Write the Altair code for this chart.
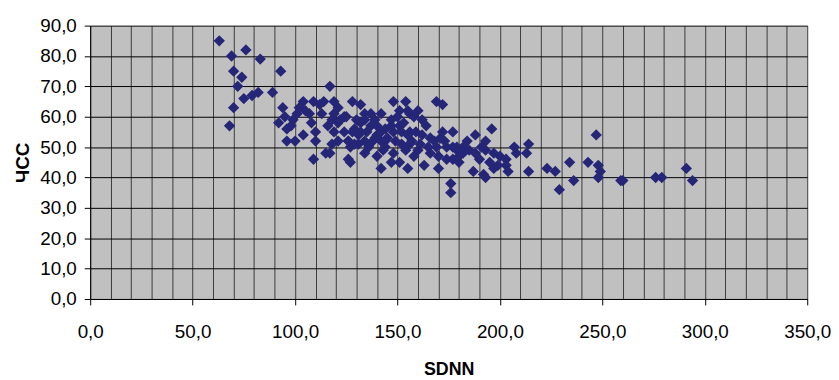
import altair as alt
import pandas as pd

sdnn = [
    63, 69, 76, 83, 70, 74, 72, 93, 75, 79, 82, 89, 70, 68, 117,
    94, 92, 98, 96, 100, 104, 110, 110, 109, 115, 118, 104, 109, 114, 119,
    101, 107, 113, 119, 95, 116, 121, 124, 96, 99, 105, 108, 102, 112,
    124, 129, 126, 131, 135, 137, 134, 139, 127, 131, 139, 128, 132, 148, 154,
    169, 172, 121, 134, 142, 147, 156, 158, 162, 118, 122, 125, 130, 132,
    119, 128, 132, 140, 144, 148, 151, 155, 159, 162, 121, 126, 129, 134,
    138, 142, 144, 149, 152, 157, 168, 172, 177, 117, 126, 127, 134, 140,
    143, 142, 147, 151, 155, 163, 166, 170, 170, 174, 177, 180, 176, 176,
    169, 174, 179, 151, 155, 142, 147, 152, 156, 144, 156, 161, 173, 177,
    180, 187, 164, 166, 160, 137, 145, 153, 160, 150, 136, 140, 154, 165,
    171, 158, 148,
    188, 196, 179, 182, 185, 188, 193, 193, 197, 200, 203, 207, 208, 213,
    214, 192, 193, 197, 199, 203, 204, 214, 223, 227, 229, 234, 236, 243,
    247, 248, 249, 248, 259, 260, 276, 279, 291, 294, 191, 182, 184, 190, 195,
]
hr = [
    85, 80, 82, 79, 75, 73, 70, 75, 66, 67, 68, 68, 63, 57, 70,
    63, 58, 57, 52, 52, 54, 55, 52, 46, 48, 51, 65, 65, 65, 65,
    61, 61, 61, 61, 60, 57, 58, 60, 56, 59, 62, 58, 63, 64,
    55, 56, 52, 54, 55, 61, 59, 53, 50, 51, 59, 65, 64, 65, 65,
    65, 64, 63, 61, 61, 59, 61, 60, 59, 59, 59, 60, 59, 58,
    55, 55, 55, 54, 56, 55, 57, 54, 55, 54, 52, 52, 51, 52,
    52, 52, 52, 52, 51, 52, 52, 55, 55, 48, 46, 45, 48, 47,
    49, 43, 45, 45, 43, 44, 48, 47, 43, 46, 46, 45, 38, 35,
    50, 50, 50, 62, 62, 55, 57, 55, 55, 50, 51, 51, 52, 50,
    47, 42, 57, 53, 49, 57, 53, 58, 62, 60, 50, 57, 49, 50,
    53, 47, 48,
    54, 56, 49, 48, 49, 48, 52, 49, 48, 47, 46, 50, 48, 48,
    51, 41, 40, 43, 44, 44, 42, 42, 43, 42, 36, 45, 39, 45,
    54, 44, 42, 40, 39, 39, 40, 40, 43, 39, 50, 50, 52, 46, 45,
]

df = pd.DataFrame({"SDNN": sdnn, "HR": hr})

FONT = "Liberation Sans"
fmt = "replace(format(datum.value, '.1f'), '.', ',')"

x_axis = alt.Axis(
    values=list(range(0, 351, 10)),
    labelExpr=f"datum.value % 50 === 0 ? {fmt} : ''",
    labelOverlap=False,
    labelFlush=False,
    labelFont=FONT,
    labelFontSize=19,
    labelColor="#000000",
    labelPadding=18,
    tickColor="#000000",
    tickSize=6,
    tickOpacity={"condition": {"test": "datum.value % 50 === 0", "value": 1}, "value": 0},
    domainColor="#000000",
    gridColor="#3c3c3c",
    gridWidth=1,
    title="SDNN",
    titleFont=FONT,
    titleFontSize=18,
    titleFontWeight="bold",
    titleColor="#000000",
    titleX=362,
    titleY=71,
    titleAlign="center",
    titleBaseline="middle",
)

y_axis = alt.Axis(
    values=list(range(0, 91, 10)),
    labelExpr=fmt,
    labelFont=FONT,
    labelFontSize=19,
    labelColor="#000000",
    labelPadding=8,
    tickColor="#000000",
    tickSize=6,
    domainColor="#000000",
    gridColor="#000000",
    gridWidth=1,
    title="ЧСС",
    titleFont=FONT,
    titleFontSize=19,
    titleFontWeight="bold",
    titleColor="#000000",
    titleAngle=270,
    titleX=-68,
    titleY=138,
    titleAlign="center",
    titleBaseline="middle",
)

chart = (
    alt.Chart(df)
    .mark_point(shape="diamond", filled=True, size=130, color="#262678", opacity=1)
    .encode(
        x=alt.X("SDNN:Q", scale=alt.Scale(domain=[0, 350], nice=False, zero=True), axis=x_axis),
        y=alt.Y("HR:Q", scale=alt.Scale(domain=[0, 90], nice=False, zero=True), axis=y_axis),
    )
    .properties(
        width=724,
        height=276,
        autosize=alt.AutoSizeParams(type="none"),
        padding={"left": 83, "top": 16, "right": 24, "bottom": 79},
        background="#ffffff",
    )
    .configure_view(fill="#c0c0c0", stroke="transparent")
)

chart.save("out.html", embed_options={"renderer": "svg", "actions": False})
